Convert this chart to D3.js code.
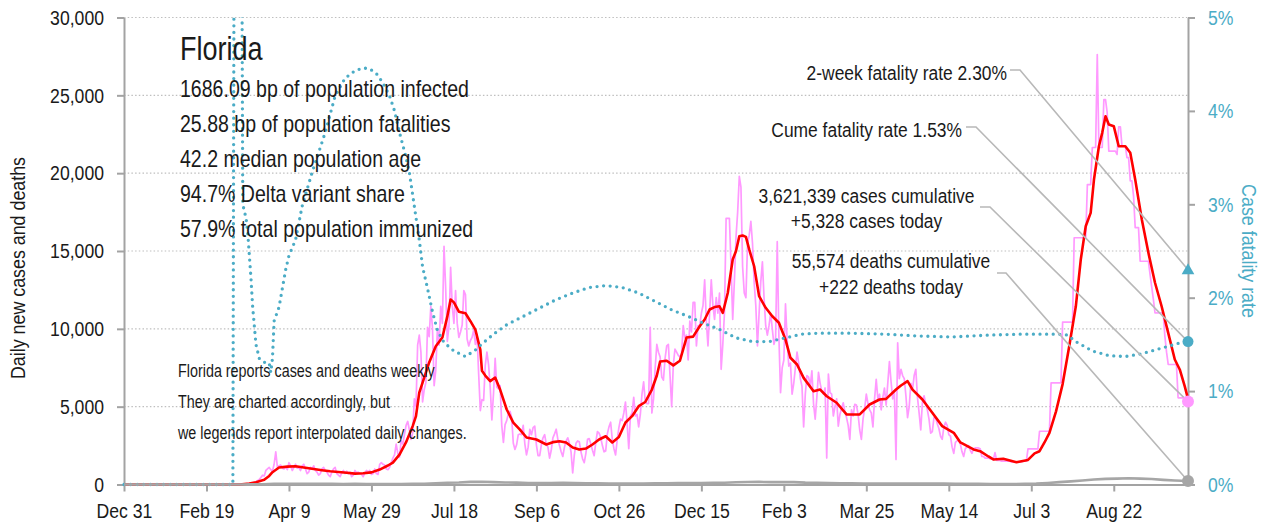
<!DOCTYPE html>
<html>
<head>
<meta charset="utf-8">
<script src="https://cdn.jsdelivr.net/npm/d3@7/dist/d3.min.js"></script>
<style>
  html,body{margin:0;padding:0;background:#fff;}
  svg{display:block;}
  text{font-family:"Liberation Sans",Arial,"Helvetica",sans-serif;fill:#1a1a1a;}
</style>
</head>
<body>
<svg id="chart" width="1267" height="529"></svg>
<script>
// ---------------- DATA ----------------
// Day 0 = Dec 31, 2019. dailyCases[i] = reported new cases on day i.
const startYear = 2019, startMonth = 11, startDayOfMonth = 31;
const lastDay = 645;

const dailyCases = [
0,0,0,0,0,0,0,0,0,0,
0,0,0,0,0,0,0,0,0,0,
0,0,0,0,0,0,0,0,0,0,
0,0,0,0,0,0,0,0,0,0,
0,0,0,0,0,0,0,0,0,0,
0,0,0,0,0,0,0,0,0,0,
0,
2,0,1,3,2,4,6,5,6,13,10,15,26,38,45,
60,70,110,120,180,250,330,450,600,550,900,1000,1100,950,850,1300,2100,1100,1200,1250,1050,1000,1150,950,1400,1200,900,1100,1300,1050,
1100,900,1200,1300,1000,700,800,1100,1000,1200,900,800,600,700,1000,1100,900,800,600,500,800,1000,1100,700,600,500,750,900,700,850,
700,800,500,600,900,750,800,700,650,500,750,900,800,900,650,700,1000,700,650,1300,1400,1300,1250,1000,950,
1100,1400,1700,1900,2600,2000,1750,2800,2600,3200,3800,4050,3500,2900,3300,5500,5000,8950,9600,8500,
5300,6100,6550,10100,9500,11450,10050,6350,7350,10000,8950,11450,10350,15300,12600,9200,10200,13950,11450,10350,
12450,10350,9450,9800,10250,12450,12200,9350,8900,9250,9450,9950,9000,9650,7100,4750,5450,5400,7650,8500,
7700,6250,4150,5850,8100,6250,6150,6350,3800,2700,
3850,4100,4550,4700,4300,2650,2250,2550,3200,3250,3200,3800,2600,1900,2400,3550,3200,3650,3750,2550,
1850,1850,2550,3000,3200,2600,2400,1700,2200,3000,
3250,3550,2900,2500,2100,1800,2400,2800,3000,2650,2100,750,1900,2650,2800,2750,2100,1650,1400,2000,
2900,2950,2600,2200,1850,2700,3400,3300,3000,2500,2100,2150,3250,3700,4000,2900,2300,1900,2900,3650,
4200,4100,4600,5300,3900,2300,4400,4600,5600,4400,4500,3700,4500,5800,6600,5300,5200,5200,10100,4600,
5500,7500,9000,8500,8200,6900,6700,8100,8900,9000,7000,5000,7700,8700,8500,8300,8200,8400,10200,9400,
9600,8000,10500,9800,11700,11700,8900,10200,10200,11000,11500,13150,10500,8900,11000,13150,11500,10600,12000,11000,
12300,7400,9000,11000,17100,17100,17100,14000,10600,13000,15900,17500,19800,19100,14000,12300,12000,15500,16000,16900,
15500,13000,11500,8900,11000,13000,14300,12000,10200,9600,10200,11000,10000,9000,9400,15600,9500,5900,7500,8000,
11600,
9300,7600,7800,5800,6500,7500,8500,7800,6800,6300,
3700,5800,7000,6900,6300,7300,5200,4200,5600,7200,
6500,6000,5800,6200,1700,7100,5900,5800,4400,5000,
5500,3750,4500,4900,5250,4700,4300,3800,2900,4800,
4400,5150,5100,4500,3500,2900,4200,4900,5800,5200,
4800,4600,3700,5500,6750,5500,5800,4800,5600,6200,
5100,6500,7900,6600,5500,6000,1600,9100,6800,7400,
7000,6800,5700,4300,5000,6500,6100,7000,7400,5600,
4600,3500,5300,5700,5200,4800,4200,3300,3400,4300,
4300,3900,3600,3100,2900,3700,4000,3800,3200,3100,
2400,2000,2700,2800,2900,2600,2100,1800,2300,2400,
2500,2200,2000,2300,2350,2350,2350,2300,1800,
1800,1700,1700,1700,1650,1650,1600,
2050,1550,1550,1550,1500,1500,1500,1500,1500,1500,
1450,1450,1450,1450,1450,1450,1450,1500,1500,1500,
2290,2290,2290,2290,2290,2290,2290,
3420,3420,3420,3420,3420,3420,3420,
6530,6530,6530,6530,6530,6530,6530,
10430,10430,10430,10430,10430,10430,10430,
15850,15850,15850,15850,15850,15850,15850,15850,
19270,19270,19270,
21650,21650,21650,
27620,
21650,21650,21650,
24730,24730,
23900,
21410,21410,21410,21410,21410,
21200,
22980,22980,
21730,21730,21730,
21000,21000,
19500,19500,
18520,
16500,16500,16500,
14340,14340,14340,14340,14340,14340,
13500,12700,11900,
11030,11030,11030,11030,11030,11030,
9500,8500,
7710,7710,7710,7710,7710,7710,
5570,5570,5570,5570,5570,5570,
5328
];

// 7-day average of new cases (red line)
const avgDays  = [0,70,76,80,85,88,90,94,99,104,110,115,120,125,130,135,140,145,150,155,160,163,167,171,175,177,179,181,185,189,193,196,198,200,203,207,210,213,216,217,219,222,225,228,232,236,240,244,250,256,260,264,268,272,276,280,284,288,292,296,300,304,308,312,316,320,323,325,329,333,337,341,345,349,352,355,358,361,363,366,369,371,373,375,377,379,382,385,389,393,397,401,404,408,412,418,422,426,432,438,446,452,458,462,468,471,475,478,484,490,496,503,507,515,519,524,527,533,541,548,552,555,558,561,565,569,573,577,580,583,586,588,591,593,595,597,600,603,607,610,613,617,621,625,629,633,637,640,643,645];
const avgCases = [0,0,60,150,300,550,790,1090,1150,1170,1080,1000,920,850,800,750,700,720,780,960,1220,1410,1920,2720,3750,4390,5900,6550,7840,8880,9440,10800,11880,11700,11100,11000,10490,9950,8670,7300,7000,6640,6870,6100,4820,3980,3530,3020,2890,2570,2720,2780,2700,2380,2250,2310,2570,2890,3100,2700,3050,3980,4390,5030,5300,6100,7000,7900,7950,7650,7950,9440,9500,10170,10600,11240,11400,11450,11030,12300,14450,15000,15950,16000,15910,15100,14020,12100,11350,10810,10390,9310,8140,7710,6850,5990,6100,5670,5250,4500,4500,5140,5460,5500,6100,6360,6640,6100,5460,4610,3750,3320,2700,2250,2140,1800,1610,1650,1430,1580,2000,2140,2700,3320,4700,6450,8880,11450,14450,16590,17450,19590,21730,22590,23660,23130,23020,21730,21730,21310,19590,17020,14880,12960,11450,9740,8030,7390,6320,5500];

// Daily deaths (grey line)
const deathDays   = [0,66,70,77,84,91,98,105,112,119,126,133,140,147,154,161,168,175,182,189,196,203,210,217,224,231,238,245,252,259,266,273,280,287,294,301,308,315,322,329,336,343,350,357,364,371,378,385,392,399,406,413,420,427,434,441,448,455,462,469,476,483,490,497,504,511,518,525,532,539,546,553,560,567,574,581,588,595,602,609,616,623,630,637,645];
const deathValues = [0,0,2,5,20,40,50,45,40,45,40,35,40,35,30,35,35,40,45,80,110,130,170,180,150,130,120,100,90,100,110,100,80,70,60,55,55,60,70,80,90,100,100,105,110,140,160,170,150,160,150,120,110,90,80,70,60,60,60,60,60,55,55,55,50,45,40,35,30,30,40,60,100,150,200,260,320,360,380,400,380,350,300,260,222];

// Case fatality rate in % (teal dotted line, right axis)
const cfrDays = [0,66,67,71,72,74,75,76,77,78,79,80,82,84,86,88,89,90,91,92,94,96,98,100,104,108,114,122,128,134,140,145,149,153,157,161,164,167,171,173,176,179,181,184,187,190,194,200,207,213,216,224,232,242,252,262,272,282,292,302,312,322,332,342,351,361,371,381,391,401,411,421,441,461,481,502,525,545,566,572,577,583,587,597,607,617,627,635,641,645];
const cfrPct  = [0,0,8,8,3.0,2.85,2.7,2.45,2.2,1.9,1.7,1.5,1.35,1.32,1.3,1.3,1.2,1.35,1.75,1.8,1.9,2.1,2.3,2.45,2.62,2.98,3.34,3.77,4.16,4.35,4.43,4.46,4.45,4.4,4.3,4.16,4.0,3.77,3.5,3.34,2.98,2.62,2.33,2.1,1.85,1.65,1.52,1.43,1.37,1.44,1.49,1.61,1.71,1.80,1.89,1.98,2.05,2.11,2.13,2.11,2.05,1.96,1.87,1.80,1.73,1.66,1.57,1.53,1.53,1.57,1.61,1.62,1.62,1.61,1.59,1.58,1.60,1.61,1.61,1.60,1.53,1.47,1.43,1.38,1.37,1.40,1.45,1.49,1.52,1.53];

// Axis ticks
const leftTicks  = [0,5000,10000,15000,20000,25000,30000];
const rightTicks = [0,1,2,3,4,5];
const xTickDays  = [0,50,100,150,200,250,300,350,400,450,500,550,600];

// Texts and latest values
const stateName = "Florida";
const statLines = [
  "1686.09 bp of population infected",
  "25.88 bp of population fatalities",
  "42.2 median population age",
  "94.7% Delta variant share",
  "57.9% total population immunized"
];
const noteLines = [
  "Florida reports cases and deaths weekly",
  "They are charted accordingly, but",
  "we legends report interpolated daily changes."
];
const twoWeekRate = 2.30;
const cumeRate = 1.53;
const cumCases = 3621339;
const casesToday = 5328;
const cumDeaths = 55574;
const deathsToday = 222;
const leftTitle = "Daily new cases and deaths";
const rightTitle = "Case fatality rate";

// ---------------- CHART ----------------
const svg = d3.select("#chart");
const X0 = 124, X1 = 1188, Y0 = 484.5, Y1 = 17.5;
const SX = 0.84; // horizontal condensing of the text face
const startDate = new Date(Date.UTC(startYear, startMonth, startDayOfMonth));
const dayToDate = d => d3.utcDay.offset(startDate, d);

const x  = d3.scaleUtc().domain([dayToDate(0), dayToDate(lastDay)]).range([X0, X1]);
const y  = d3.scaleLinear().domain([0, 30000]).range([Y0, Y1]);
const yR = d3.scaleLinear().domain([0, 5]).range([Y0, Y1]);

const teal = "#4bacc6", pink = "#ff99ff", red = "#ff0000", grey = "#a6a6a6", axisGrey = "#a3a3a3";

function label(parent, px, py, str, size, opts = {}) {
  const sx = opts.sx || SX;
  return parent.append("text")
    .attr("transform", `translate(${px},${py})${opts.rotate ? ` rotate(${opts.rotate})` : ""} scale(${sx},1)`)
    .attr("text-anchor", opts.anchor || "start")
    .style("font-size", size + "px")
    .style("fill", opts.fill || "#1a1a1a")
    .text(str);
}

svg.append("defs").append("clipPath").attr("id", "plotClip")
  .append("rect").attr("x", X0 - 2).attr("y", Y1).attr("width", X1 - X0 + 4).attr("height", Y0 - Y1 + 4);

// grid
svg.append("g").selectAll("line").data(leftTicks.filter(v => v > 0)).join("line")
  .attr("x1", X0).attr("x2", X1)
  .attr("y1", d => y(d)).attr("y2", d => y(d))
  .attr("stroke", "#bfbfbf").attr("stroke-width", 1.2).attr("stroke-dasharray", "1.5 2.2");

const plot = svg.append("g").attr("clip-path", "url(#plotClip)");

// pink daily cases
plot.append("path").datum(dailyCases)
  .attr("fill", "none").attr("stroke", pink).attr("stroke-width", 1.7).attr("stroke-linejoin", "round")
  .attr("d", d3.line().x((v, i) => x(dayToDate(i))).y(v => y(v)));

// red average
plot.append("path").datum(avgDays.map((d, i) => [d, avgCases[i]]))
  .attr("fill", "none").attr("stroke", red).attr("stroke-width", 2.6).attr("stroke-linejoin", "round")
  .attr("d", d3.line().x(p => x(dayToDate(p[0]))).y(p => y(p[1])));

// case fatality rate dotted line
plot.append("path").datum(cfrDays.map((d, i) => [d, cfrPct[i]]))
  .attr("fill", "none").attr("stroke", teal).attr("stroke-width", 3.3)
  .attr("stroke-linecap", "round").attr("stroke-dasharray", "0 6.6")
  .attr("d", d3.line().x(p => x(dayToDate(p[0]))).y(p => yR(p[1])));

// axes
const styleAxis = (g, color) => {
  g.select(".domain").attr("stroke", axisGrey).attr("stroke-width", 2);
  g.selectAll(".tick line").attr("stroke", axisGrey).attr("stroke-width", 2);
  g.selectAll(".tick text").each(function () {
    const t = d3.select(this);
    const xv = +t.attr("x") || 0;
    t.attr("x", xv / SX).attr("transform", `scale(${SX},1)`);
  }).style("font-size", "21px").style("fill", color);
};

svg.append("g").attr("transform", `translate(${X0},0)`)
  .call(d3.axisLeft(y).tickValues(leftTicks).tickFormat(d3.format(",")).tickSize(7).tickSizeOuter(0).tickPadding(13))
  .call(g => styleAxis(g, "#1a1a1a"));

svg.append("g").attr("transform", `translate(${X1},0)`)
  .call(d3.axisRight(yR).tickValues(rightTicks).tickFormat(d => d + "%").tickSize(7).tickSizeOuter(0).tickPadding(13))
  .call(g => styleAxis(g, teal));

svg.append("g").attr("transform", `translate(0,${Y0})`)
  .call(d3.axisBottom(x).tickValues(xTickDays.map(dayToDate)).tickFormat(d3.utcFormat("%b %-d")).tickSize(7).tickSizeOuter(0).tickPadding(12))
  .call(g => styleAxis(g, "#1a1a1a"));

// deaths grey line (on top of axis)
plot.append("path").datum(deathDays.map((d, i) => [d, deathValues[i]]))
  .attr("fill", "none").attr("stroke", grey).attr("stroke-width", 2.6).attr("stroke-linejoin", "round")
  .attr("d", d3.line().x(p => x(dayToDate(p[0]))).y(p => y(p[1])));
svg.node().appendChild(plot.node());

// axis titles
label(svg, 25, 268, leftTitle, 21, {anchor: "middle", rotate: -90, sx: 0.85});
label(svg, 1242, 251, rightTitle, 21, {anchor: "middle", rotate: 90, sx: 0.85, fill: teal});

// leader lines & end markers
const xe = x(dayToDate(lastDay));
const leaders = [
  {pts: [[1010, 70], [1020, 70]], end: [xe, yR(twoWeekRate)]},
  {pts: [[966, 127], [976, 127]], end: [xe, yR(cumeRate)]},
  {pts: [[980, 207], [990, 207]], end: [xe, y(casesToday)]},
  {pts: [[997, 273], [1006, 273]], end: [xe, y(deathsToday)]}
];
svg.append("g").selectAll("path").data(leaders).join("path")
  .attr("fill", "none").attr("stroke", "#b8b8b8").attr("stroke-width", 1.6)
  .attr("d", d => d3.line()(d.pts.concat([d.end])));

svg.append("path").attr("d", d3.symbol(d3.symbolTriangle, 70)())
  .attr("transform", `translate(${xe},${yR(twoWeekRate) + 1})`).attr("fill", teal);
svg.append("circle").attr("cx", xe).attr("cy", yR(cumeRate)).attr("r", 5.5).attr("fill", teal);
svg.append("circle").attr("cx", xe).attr("cy", y(casesToday)).attr("r", 6).attr("fill", pink);
svg.append("circle").attr("cx", xe).attr("cy", y(deathsToday)).attr("r", 6).attr("fill", grey);

// annotation text
const fmt = d3.format(",");
label(svg, 1007, 80, `2-week fatality rate ${twoWeekRate.toFixed(2)}%`, 21, {anchor: "end", sx: 0.83});
label(svg, 962, 137, `Cume fatality rate ${cumeRate.toFixed(2)}%`, 21, {anchor: "end", sx: 0.83});
label(svg, 866.5, 203, `${fmt(cumCases)} cases cumulative`, 21, {anchor: "middle", sx: 0.83});
label(svg, 866.5, 228, `+${fmt(casesToday)} cases today`, 21, {anchor: "middle", sx: 0.83});
label(svg, 891, 268, `${fmt(cumDeaths)} deaths cumulative`, 21, {anchor: "middle", sx: 0.83});
label(svg, 891, 294, `+${fmt(deathsToday)} deaths today`, 21, {anchor: "middle", sx: 0.83});

// title & stats
label(svg, 180, 60, stateName, 33, {sx: 0.82});
statLines.forEach((s, i) => label(svg, 180, 97 + 35 * i, s, 23, {sx: 0.85}));
noteLines.forEach((s, i) => label(svg, 178, 377 + 31 * i, s, 17.5, {sx: 0.82}));
</script>
</body>
</html>
